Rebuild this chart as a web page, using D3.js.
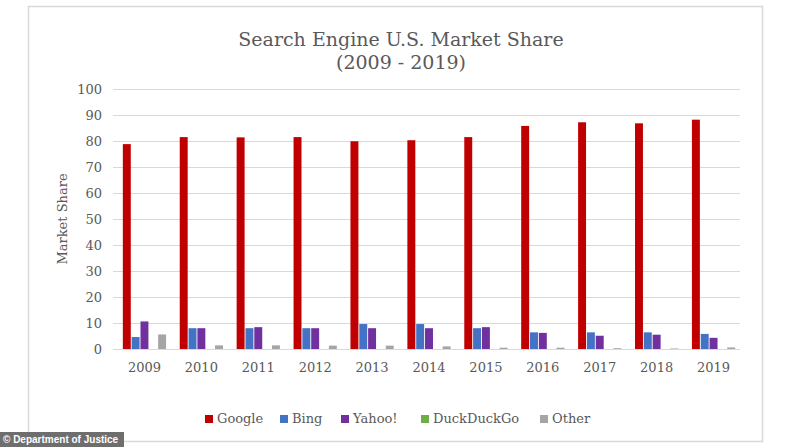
<!DOCTYPE html>
<html>
<head>
<meta charset="utf-8">
<script src="https://cdn.jsdelivr.net/npm/d3@7"></script>
<style>
  body { margin: 0; background: #fff; }
  svg text { font-family: "DejaVu Serif", "Liberation Serif", serif; fill: #595959; }
</style>
</head>
<body>
<svg id="chart"></svg>
<script>
// Data
const years = ["2009", "2010", "2011", "2012", "2013", "2014", "2015", "2016", "2017", "2018", "2019"];
const seriesNames = ["Google", "Bing", "Yahoo!", "DuckDuckGo", "Other"];
const google = [78.8, 81.5, 81.4, 81.5, 79.9, 80.3, 81.5, 85.8, 87.2, 86.8, 88.2];
const bing = [4.6, 8.0, 8.0, 8.0, 9.6, 9.6, 8.0, 6.4, 6.4, 6.4, 5.8];
const yahoo = [10.6, 8.0, 8.4, 8.0, 8.0, 8.0, 8.4, 6.2, 5.1, 5.5, 4.3];
const duckduckgo = [0, 0, 0, 0, 0, 0, 0, 0, 0, 0, 0];
const other = [5.6, 1.4, 1.4, 1.3, 1.3, 1.0, 0.5, 0.5, 0.3, 0.2, 0.6];
const yTicks = [0, 10, 20, 30, 40, 50, 60, 70, 80, 90, 100];
const colors = ["#c00000", "#4472c4", "#7030a0", "#70ad47", "#a5a5a5"];

const allSeries = [google, bing, yahoo, duckduckgo, other];

const width = 800;
const height = 447;
const margin = { top: 89, right: 58, bottom: 98, left: 116 };

const svg = d3.select("#chart")
    .attr("width", width)
    .attr("height", height);

// Khung viền
svg.append("rect")
    .attr("x", 28.5).attr("y", 6.5)
    .attr("width", 734).attr("height", 435)
    .attr("fill", "none")
    .attr("stroke", "#d9d9d9")
    .attr("stroke-width", 1.5);

const x = d3.scaleBand()
    .domain(years)
    .range([margin.left, width - margin.right])
    .paddingInner(0.24)
    .paddingOuter(0.12);

const xs = d3.scaleBand()
    .domain(seriesNames)
    .range([0, x.bandwidth()])
    .paddingInner(0.1);

const y = d3.scaleLinear()
    .domain([0, 100])
    .range([height - margin.bottom, margin.top]);

// Lưới
svg.append("g")
    .selectAll("line")
    .data(yTicks)
    .enter()
    .append("line")
    .attr("x1", 113).attr("x2", 740)
    .attr("y1", d => y(d) + 0.5).attr("y2", d => y(d) + 0.5)
    .attr("stroke", "#d9d9d9")
    .attr("stroke-width", 1);

// Trục Y
const yAxis = svg.append("g")
    .attr("transform", `translate(${margin.left - 14},0)`)
    .call(d3.axisLeft(y).tickValues(yTicks).tickSize(0).tickPadding(0));
yAxis.select(".domain").remove();
yAxis.selectAll("text")
    .style("font-size", "13px")
    .attr("dy", "0.35em");

// Trục X
const xAxis = svg.append("g")
    .attr("transform", `translate(0,${height - margin.bottom})`)
    .call(d3.axisBottom(x).tickSize(0).tickPadding(14));
xAxis.select(".domain").remove();
xAxis.selectAll("text")
    .style("font-size", "13px");

// Vẽ cột
const groups = svg.selectAll(".bar-group")
    .data(years)
    .enter()
    .append("g")
    .attr("class", "bar-group")
    .attr("transform", d => `translate(${x(d)},0)`);

allSeries.forEach((vals, si) => {
    groups.append("rect")
        .attr("x", xs(seriesNames[si]))
        .attr("y", (d, i) => y(vals[i]))
        .attr("width", xs.bandwidth())
        .attr("height", (d, i) => y(0) - y(vals[i]))
        .attr("fill", colors[si]);
});

// Tiêu đề
svg.append("text")
    .attr("x", 401).attr("y", 46)
    .attr("text-anchor", "middle")
    .style("font-size", "19px")
    .text("Search Engine U.S. Market Share");
svg.append("text")
    .attr("x", 401).attr("y", 69)
    .attr("text-anchor", "middle")
    .style("font-size", "19px")
    .text("(2009 - 2019)");

// Nhãn trục Y
svg.append("text")
    .attr("transform", "translate(67,219) rotate(-90)")
    .attr("text-anchor", "middle")
    .style("font-size", "13px")
    .text("Market Share");

// Chú thích
const legendX = [205, 280, 341, 421, 540];
const legend = svg.append("g");
seriesNames.forEach((name, i) => {
    legend.append("rect")
        .attr("x", legendX[i]).attr("y", 415)
        .attr("width", 8).attr("height", 8)
        .attr("fill", colors[i]);
    legend.append("text")
        .attr("x", legendX[i] + 12).attr("y", 423)
        .style("font-size", "13px")
        .text(name);
});

// Watermark
svg.append("rect")
    .attr("x", 0).attr("y", 432)
    .attr("width", 124).attr("height", 15)
    .attr("fill", "#6e6e6e");
svg.append("text")
    .attr("x", 3).attr("y", 443)
    .style("font-family", "'Liberation Sans', Arial, sans-serif")
    .style("font-size", "10px")
    .style("font-weight", "bold")
    .style("fill", "#fff")
    .text("© Department of Justice");
</script>
</body>
</html>
